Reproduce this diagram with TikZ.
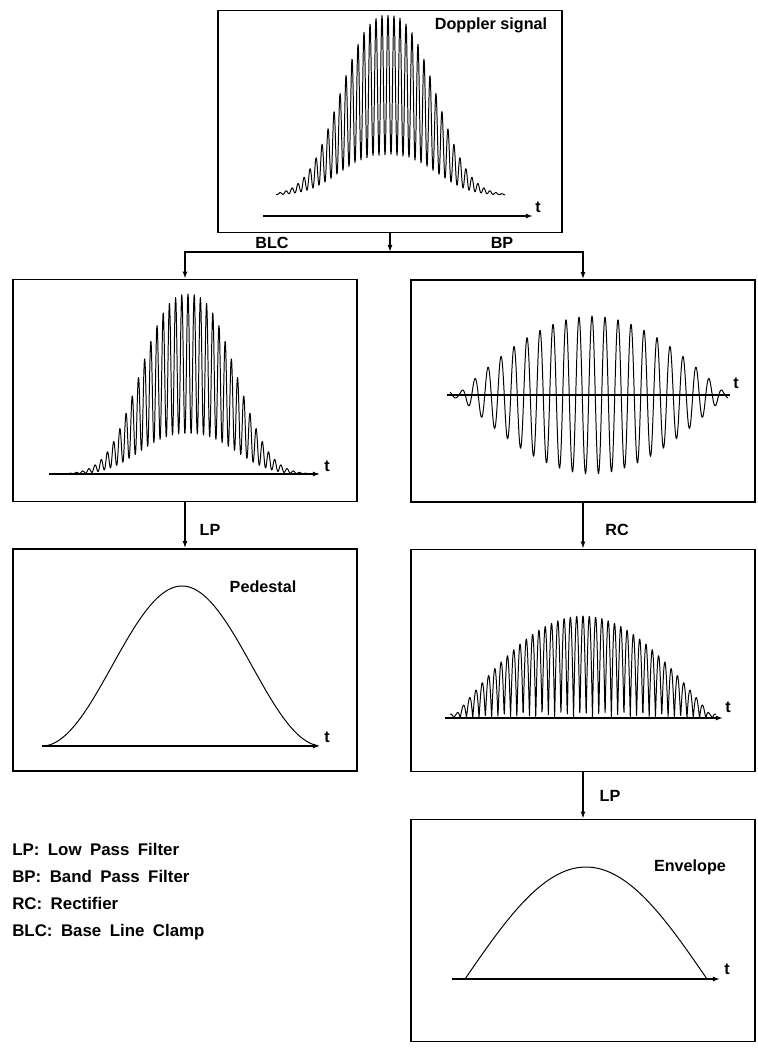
\documentclass[tikz,border=0pt]{standalone}
\usepackage{fontspec}
\setmainfont{Liberation Sans}
\usetikzlibrary{arrows.meta}

\tikzset{
  panel/.style={draw, line width=1.3pt, minimum width=8.6cm, minimum height=5.55cm, inner sep=0pt},
  link/.style={line width=0.9pt, -{Latex[length=5pt,width=3.5pt]}},
  axis/.style={line width=1.1pt, -{Latex[length=5pt,width=3.5pt]}},
  sig/.style={line width=0.7pt, line join=round},
  lbl/.style={font=\bfseries\fontsize{11.5}{14}\selectfont, inner sep=0pt},
}

\begin{document}
\begin{tikzpicture}[x=0.025cm, y=-0.025cm]
\useasboundingbox (0,0) rectangle (757,1050);

% Boxes
\node[panel] (dop) at (390,121.5) {};
\node[panel] (blc) at (185,390.5) {};
\node[panel] (bp) at (583,391) {};
\node[panel] (ped) at (185,660) {};
\node[panel] (rc) at (583,660.5) {};
\node[panel] (env) at (583,930.5) {};

% Connectors
\coordinate (fork) at (390,252);
\draw[link] (dop.south) -- (fork);
\draw[link] (fork) -| (blc.north);
\draw[link] (fork) -| (bp.north);
\draw[link] (blc.south) -- (ped.north);
\draw[link] (bp.south) -- (rc.north);
\draw[link] (rc.south) -- (env.north);

% Connector labels
\node[lbl] (blclbl) at (272,243) {BLC};
\node[lbl] (bplbl) at (502,243) {BP};
\node[lbl] (lplbl) at (210,530) {LP};
\node[lbl] (rclbl) at (617,530) {RC};
\node[lbl] (lplbltwo) at (610,796) {LP};

% Titles
\node[lbl, anchor=base] (doptitle) at (491,30) {Doppler signal};
\node[lbl, anchor=base] (pedtitle) at (263,592) {Pedestal};
\node[lbl, anchor=base] (envtitle) at (690,871) {Envelope};

% Time axes
\draw[axis] (263,216) -- (533,216);
\draw[axis] (49,474) -- (320,474);
\draw[line width=1.1pt] (447,395) -- (730,395);
\draw[axis] (42,746) -- (320,746);
\draw[axis] (445,718) -- (723,718);
\draw[axis] (452,979) -- (720,979);
\node[lbl] (tdop) at (538,207) {t};
\node[lbl] (tblc) at (327,466) {t};
\node[lbl] (tbp) at (736,383) {t};
\node[lbl] (tped) at (327,737) {t};
\node[lbl] (trc) at (728,707) {t};
\node[lbl] (tenv) at (727,969) {t};

% Signals
\draw[sig] plot[domain=276:505, samples=701]
  (\x, {195-exp(-((abs(\x-388)+0.01)/60)^2.5)*(110+70*cos(60*(\x-388)))});
\draw[sig] plot[domain=58:318, samples=801]
  (\x, {474-exp(-((abs(\x-188)+0.01)/60)^2.5)*(110+70*cos(58.06*(\x-188)))});
\draw[sig] plot[domain=450:728, samples=561]
  (\x, {395-max(3,79*cos(0.6667*(\x-592)))*cos(27.69*(\x-592))});
\draw[sig] plot[domain=44:318, samples=201]
  (\x, {746-80*(1+cos(1.2857*(\x-182)))});
\draw[sig] plot[domain=450:716, samples=901]
  (\x, {718-max(4,102*cos(0.6923*(\x-583)))*abs(cos(28.57*(\x-583)))});
\draw[sig] plot[domain=465:707, samples=121]
  (\x, {979-112*cos(0.7438*(\x-586))});

% Legend
\node[lbl, anchor=north west, align=left, font={\bfseries\fontsize{12}{19.2}\selectfont\spaceskip=0.5em\relax}] (legend) at (12,843)
  {LP: Low Pass Filter\\BP: Band Pass Filter\\RC: Rectifier\\BLC: Base Line Clamp};
\end{tikzpicture}
\end{document}
